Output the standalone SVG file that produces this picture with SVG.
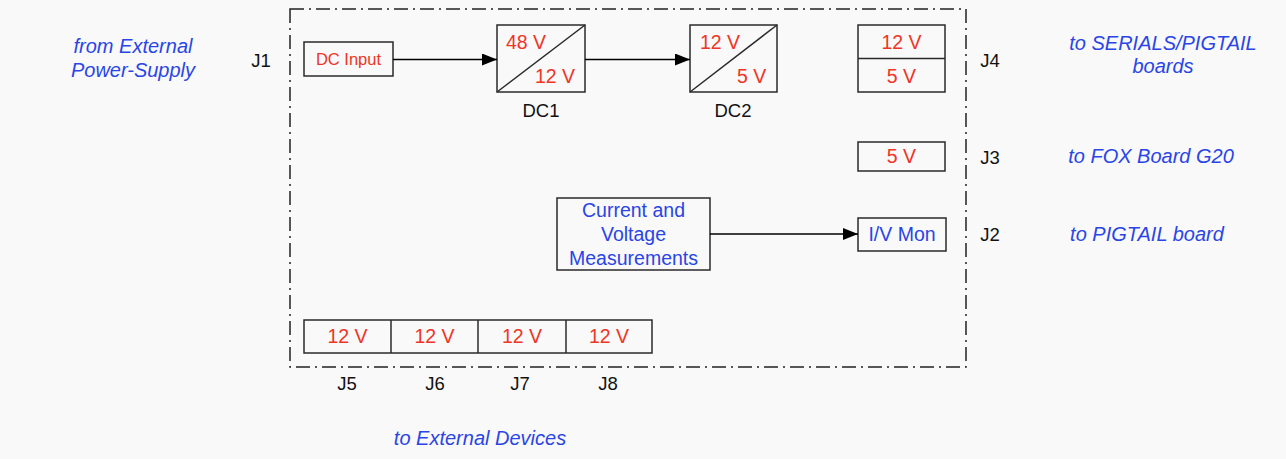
<svg xmlns="http://www.w3.org/2000/svg" width="1286" height="459" viewBox="0 0 1286 459">
<style>
.box{fill:none;stroke:#2a2a2a;stroke-width:1.5}
.ln{fill:none;stroke:#000;stroke-width:1.5}
.frame{fill:none;stroke:#222;stroke-width:1.5;stroke-dasharray:14 5 2 5}
.r{font-family:"Liberation Sans",Arial,sans-serif;font-size:19.5px;fill:#ee3526}
.rs{font-family:"Liberation Sans",Arial,sans-serif;font-size:16.5px;fill:#ee3526}
.b{font-family:"Liberation Sans",Arial,sans-serif;font-size:19.5px;fill:#2a45e6}
.bi{font-family:"Liberation Sans",Arial,sans-serif;font-size:20px;font-style:italic;fill:#2a45e6}
.k{font-family:"Liberation Sans",Arial,sans-serif;font-size:18.5px;fill:#111}
.m{text-anchor:middle}
</style>
<defs>
<marker id="arr" viewBox="0 0 15 12" refX="15" refY="6" markerWidth="15" markerHeight="12" markerUnits="userSpaceOnUse" orient="auto">
<path d="M0,0 L15,6 L0,12 Z" fill="#000"/>
</marker>
</defs>
<rect width="1286" height="459" fill="#f9f9f9"/>
<rect id="frame" class="frame" x="290" y="9" width="676" height="358"/>

<g id="ext-labels">
<text class="bi m" x="133" y="53">from External</text>
<text class="bi m" x="133" y="77">Power-Supply</text>
<text class="bi m" x="1163" y="50">to SERIALS/PIGTAIL</text>
<text class="bi m" x="1163" y="73">boards</text>
<text class="bi m" x="1151" y="163">to FOX Board G20</text>
<text class="bi m" x="1147" y="241">to PIGTAIL board</text>
<text class="bi m" x="480" y="445">to External Devices</text>
</g>

<g id="j-labels">
<text class="k m" x="261" y="67">J1</text>
<text class="k m" x="990" y="67">J4</text>
<text class="k m" x="990" y="164">J3</text>
<text class="k m" x="990" y="241">J2</text>
<text class="k m" x="347" y="390">J5</text>
<text class="k m" x="435" y="390">J6</text>
<text class="k m" x="520" y="390">J7</text>
<text class="k m" x="608" y="390">J8</text>
</g>

<g id="dc-input">
<rect class="box" x="304" y="42" width="89" height="34"/>
<text class="rs m" x="348.5" y="65">DC Input</text>
</g>

<g id="dc1">
<rect class="box" x="497" y="25" width="88" height="67"/>
<line class="box" x1="497" y1="92" x2="585" y2="25"/>
<text class="r" x="506" y="49">48 V</text>
<text class="r" x="535" y="83">12 V</text>
<text class="k m" x="541" y="117">DC1</text>
</g>

<g id="dc2">
<rect class="box" x="690" y="25" width="87" height="67"/>
<line class="box" x1="690" y1="92" x2="777" y2="25"/>
<text class="r" x="700" y="49">12 V</text>
<text class="r" x="737" y="83">5 V</text>
<text class="k m" x="733" y="117">DC2</text>
</g>

<g id="j4">
<rect class="box" x="858" y="25" width="87" height="67"/>
<line class="box" x1="858" y1="58.5" x2="945" y2="58.5"/>
<text class="r m" x="901.5" y="49">12 V</text>
<text class="r m" x="901.5" y="83">5 V</text>
</g>

<g id="j3">
<rect class="box" x="858" y="142" width="87" height="29"/>
<text class="r m" x="901.5" y="163">5 V</text>
</g>

<g id="measure">
<rect class="box" x="557" y="198" width="153" height="72"/>
<text class="b m" x="633.5" y="217">Current and</text>
<text class="b m" x="633.5" y="241">Voltage</text>
<text class="b m" x="633.5" y="265">Measurements</text>
</g>

<g id="j2">
<rect class="box" x="858" y="218" width="88" height="33"/>
<text class="b m" x="902" y="241">I/V Mon</text>
</g>

<g id="j5-j8">
<rect class="box" x="304" y="320" width="348" height="33"/>
<line class="box" x1="391" y1="320" x2="391" y2="353"/>
<line class="box" x1="478" y1="320" x2="478" y2="353"/>
<line class="box" x1="566" y1="320" x2="566" y2="353"/>
<text class="r m" x="347.5" y="343">12 V</text>
<text class="r m" x="434.5" y="343">12 V</text>
<text class="r m" x="522" y="343">12 V</text>
<text class="r m" x="609" y="343">12 V</text>
</g>

<g id="connectors">
<line class="ln" x1="393" y1="59.5" x2="497" y2="59.5" marker-end="url(#arr)"/>
<line class="ln" x1="585" y1="59.5" x2="690" y2="59.5" marker-end="url(#arr)"/>
<line class="ln" x1="710" y1="234" x2="858" y2="234" marker-end="url(#arr)"/>
</g>
</svg>
